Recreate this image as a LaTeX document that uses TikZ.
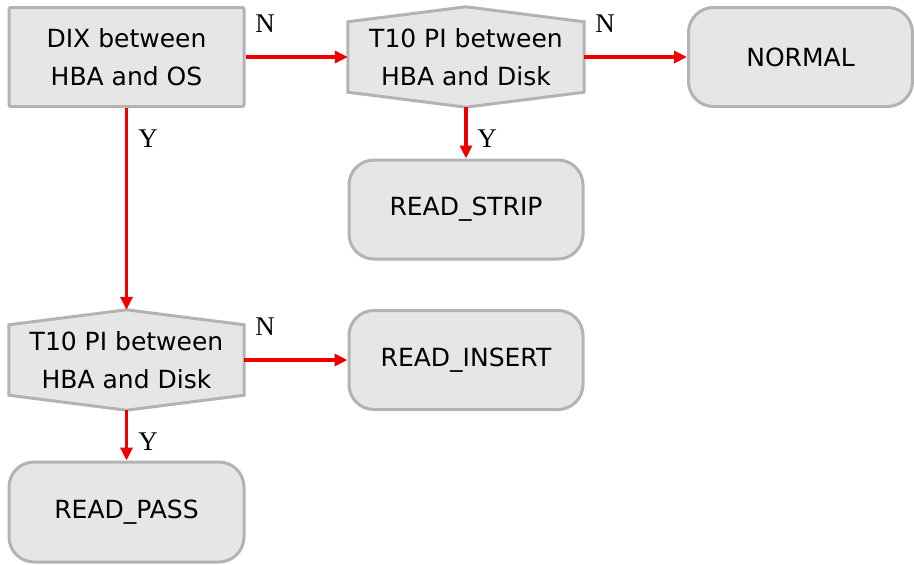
\documentclass[tikz,border=0pt]{standalone}
\usepackage{fontspec}
\setmainfont{DejaVu Sans}
\newfontfamily\labfont{Liberation Serif}
\usetikzlibrary{arrows.meta,backgrounds,calc}
\definecolor{boxfill}{HTML}{E6E6E6}
\definecolor{boxline}{HTML}{B3B3B3}
\definecolor{arrred}{HTML}{EE0000}
\tikzset{
  base/.style={fill=boxfill, draw=boxline, line width=3pt, align=center,
    font=\fontsize{25}{38}\selectfont, inner sep=0pt},
  procbox/.style={base, rectangle, rounded corners=2pt, minimum width=235pt, minimum height=99pt},
  termbox/.style={base, rectangle, rounded corners=25pt, minimum width=234pt, minimum height=99pt},
  hexnode/.style={rectangle, align=center, font=\fontsize{25}{38}\selectfont,
    inner sep=0pt, minimum width=236pt, minimum height=100pt},
  hexframe/.style={fill=boxfill, draw=boxline, line width=3pt, line join=miter},
  conn/.style={draw=arrred, line width=3.2pt, -{Triangle[length=13pt,width=12pt]}},
  lab/.style={font=\labfont\fontsize{27}{27}\selectfont, inner sep=0pt}
}
\begin{document}
\begin{tikzpicture}[x=1pt,y=-1pt]
\useasboundingbox (0,0) rectangle (914,565);
% nodes
\node[procbox] (dix) at (126.5,57) {DIX between\\HBA and OS};
\node[hexnode] (t10a) at (466,57) {T10 PI between\\HBA and Disk};
\node[termbox, minimum width=224pt] (normal) at (800.5,57) {NORMAL};
\node[termbox] (strip) at (466,209.5) {READ\_STRIP};
\node[hexnode, minimum width=235pt] (t10b) at (126.5,360) {T10 PI between\\HBA and Disk};
\node[termbox] (insert) at (466,360) {READ\_INSERT};
\node[termbox, minimum width=235pt, minimum height=100pt] (pass) at (126.5,512) {READ\_PASS};
% hexagon frames
\begin{scope}[on background layer]
\foreach \h in {t10a,t10b}{
  \draw[hexframe] (\h.north) -- ($(\h.north east)+(0,15)$) -- ($(\h.south east)+(0,-15)$)
    -- (\h.south) -- ($(\h.south west)+(0,-15)$) -- ($(\h.north west)+(0,15)$) -- cycle;
}
\end{scope}
% connectors
\draw[conn] (dix.east) -- (t10a.west);
\draw[conn] (t10a.east) -- (normal.west);
\draw[conn] (dix.south) -- (t10b.north);
\draw[conn] (t10a.south) -- (strip.north);
\draw[conn] (t10b.east) -- (insert.west);
\draw[conn] (t10b.south) -- (pass.north);
% labels
\node[lab] (l1) at (265,24) {N};
\node[lab] (l2) at (605,24) {N};
\node[lab] (l3) at (148,139) {Y};
\node[lab] (l4) at (487,139) {Y};
\node[lab] (l5) at (265,327) {N};
\node[lab] (l6) at (148,442) {Y};
\end{tikzpicture}
\end{document}
